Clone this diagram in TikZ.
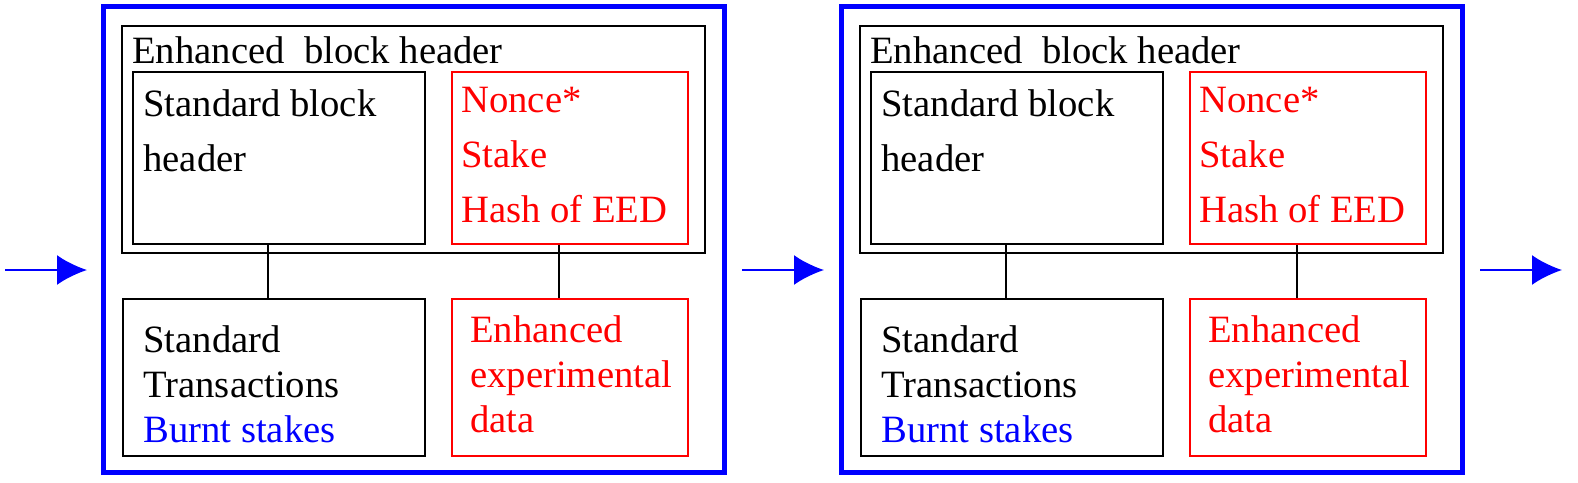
\documentclass[tikz,border=0pt]{standalone}
\usepackage{fontspec}
\setmainfont{Liberation Serif}
\usetikzlibrary{arrows.meta}
\begin{document}
\begin{tikzpicture}
	[
	x=0.2mm, y=-0.2mm,
	outer/.style={draw = blue, line width = 1.0mm},
	box/.style={draw = black, line width = 0.3mm},
	redbox/.style={draw = red, line width = 0.3mm},
	txt/.style={anchor = north west, inner sep = 0pt, align = left, font = \fontsize{22}{31.3}\selectfont},
	btxt/.style={anchor = north west, inner sep = 0pt, align = left, font = \fontsize{22}{25.8}\selectfont},
	flow/.style={->, blue, line width = 0.5mm, >={Latex[length=6mm,width=6mm]}}
	]
	\useasboundingbox (0,0) rectangle (1578,482);

	% one block per entry
	\foreach \i/\dx in {1/0, 2/738}
	{
		\draw[outer] (103+\dx,6) rectangle (724+\dx,472);
		\draw[box] (122+\dx,26) rectangle (705+\dx,253);
		\node[txt, anchor=west] (head\i) at (132+\dx,50) {Enhanced\ \ block header};

		\node[box, minimum width=58.4mm, minimum height=34.4mm, anchor=north west] (std\i) at (132+\dx,71) {};
		\node[redbox, minimum width=47.2mm, minimum height=34.4mm, anchor=north west] (ext\i) at (451+\dx,71) {};
		\node[box, minimum width=60.4mm, minimum height=31.4mm, anchor=north west] (tx\i) at (122+\dx,298) {};
		\node[redbox, minimum width=47.2mm, minimum height=31.4mm, anchor=north west] (eed\i) at (451+\dx,298) {};

		\node[txt] (stdt\i) at (143+\dx,89) {Standard block\\header};
		\node[txt, red] (extt\i) at (461+\dx,87) {Nonce*\\Stake\\Hash of EED};
		\node[btxt] (txt\i) at (143+\dx,325) {Standard\\Transactions\\\textcolor{blue}{Burnt stakes}};
		\node[btxt, red] (eedt\i) at (470+\dx,315) {Enhanced\\experimental\\data};

		\draw[box] (std\i.south -| 268+\dx,0) -- (tx\i.north -| 268+\dx,0);
		\draw[box] (ext\i.south -| 559+\dx,0) -- (eed\i.north -| 559+\dx,0);
	}

	\coordinate (a0) at (5,270);   \coordinate (b0) at (87,270);
	\coordinate (a1) at (742,270); \coordinate (b1) at (824,270);
	\coordinate (a2) at (1480,270);\coordinate (b2) at (1562,270);
	\foreach \k in {0,1,2}
		\draw[flow] (a\k) -- (b\k);
\end{tikzpicture}
\end{document}
